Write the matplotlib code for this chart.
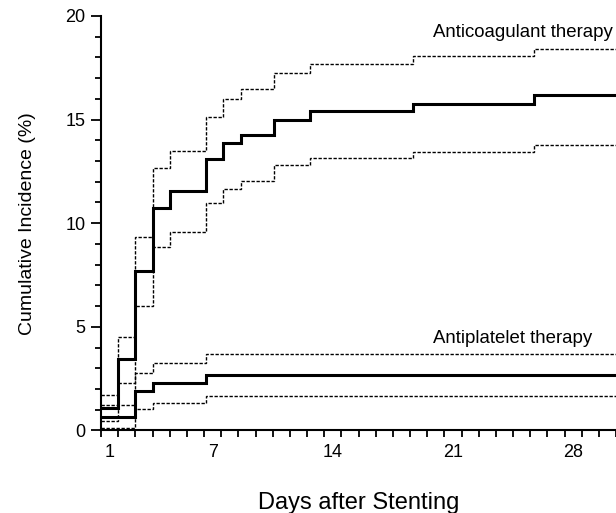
import numpy as np
import matplotlib
matplotlib.use("Agg")
import matplotlib.pyplot as plt
from matplotlib.ticker import FixedLocator, NullFormatter

plt.rcParams.update(
    {
        "font.family": ["Liberation Sans", "DejaVu Sans"],
        "font.size": 13,
    }
)

# ------------------------------------------------------------
# Values (cumulative incidence, %)
# ------------------------------------------------------------
# step times in days after stenting (left edge of each step)
anticoag_days = [0, 1, 2, 3, 4, 6.1, 7.1, 8.15, 10.1, 12.2, 18.2, 25.2]
anticoag_est = [1.07, 3.44, 7.67, 10.73, 11.54, 13.1, 13.87, 14.24, 14.97, 15.4, 15.77, 16.16]
anticoag_upper = [1.71, 4.53, 9.31, 12.67, 13.47, 15.13, 16.0, 16.45, 17.26, 17.66, 18.06, 18.42]
anticoag_lower = [0.47, 2.28, 5.98, 8.85, 9.56, 10.98, 11.67, 12.02, 12.79, 13.12, 13.45, 13.79]

antiplat_days = [0, 2, 3, 6.1]
antiplat_est = [0.67, 1.92, 2.31, 2.67]
antiplat_upper = [1.23, 2.76, 3.25, 3.70]
antiplat_lower = [0.14, 1.02, 1.34, 1.64]

day_labels = [1, 7, 14, 21, 28]
y_major = [0, 5, 10, 15, 20]

X_END = 30.0


def main() -> None:
    fig = plt.figure(figsize=(6.16, 5.13), dpi=100)
    ax = fig.add_axes([0.164, 0.161, 0.836, 0.808])

    dash = (0, (2.4, 1.2))
    for days, est, up, lo in (
        (anticoag_days, anticoag_est, anticoag_upper, anticoag_lower),
        (antiplat_days, antiplat_est, antiplat_upper, antiplat_lower),
    ):
        edges = list(days) + [X_END + 1]
        ax.stairs(up, edges, baseline=None, color="black", lw=1.0, linestyle=dash)
        ax.stairs(lo, edges, baseline=None, color="black", lw=1.0, linestyle=dash)
        ax.stairs(est, edges, baseline=None, color="black", lw=2.2)

    ax.text(19.36, 19.0, "Anticoagulant therapy", fontsize=13.4, ha="left", va="baseline")
    ax.text(19.36, 4.2, "Antiplatelet therapy", fontsize=13.4, ha="left", va="baseline")

    ax.set_xlim(0, X_END)
    ax.set_ylim(0, 20)

    # x: a tick at every day, labels centred on the day
    ax.xaxis.set_minor_locator(FixedLocator(np.arange(0, 31)))
    ax.xaxis.set_minor_formatter(NullFormatter())
    ax.set_xticks([d - 0.5 for d in day_labels])
    ax.set_xticklabels([str(d) for d in day_labels])
    ax.tick_params(axis="x", which="major", length=0, pad=10, labelsize=13)
    ax.tick_params(axis="x", which="minor", length=5, width=1.3, direction="out")

    ax.set_yticks(y_major)
    ax.yaxis.set_minor_locator(FixedLocator(np.arange(0, 21)))
    ax.tick_params(axis="y", which="major", length=7, width=1.3, pad=4, labelsize=13)
    ax.tick_params(axis="y", which="minor", length=4, width=1.3)

    ax.set_xlabel("Days after Stenting", fontsize=17, labelpad=22)
    ax.set_ylabel("Cumulative Incidence (%)", fontsize=14, labelpad=21)

    ax.spines["top"].set_visible(False)
    ax.spines["right"].set_visible(False)
    for spine in ("left", "bottom"):
        ax.spines[spine].set_linewidth(1.5)
    ax.spines["bottom"].set_bounds(0, X_END)

    fig.savefig("out.png", dpi=100)


if __name__ == "__main__":
    main()
